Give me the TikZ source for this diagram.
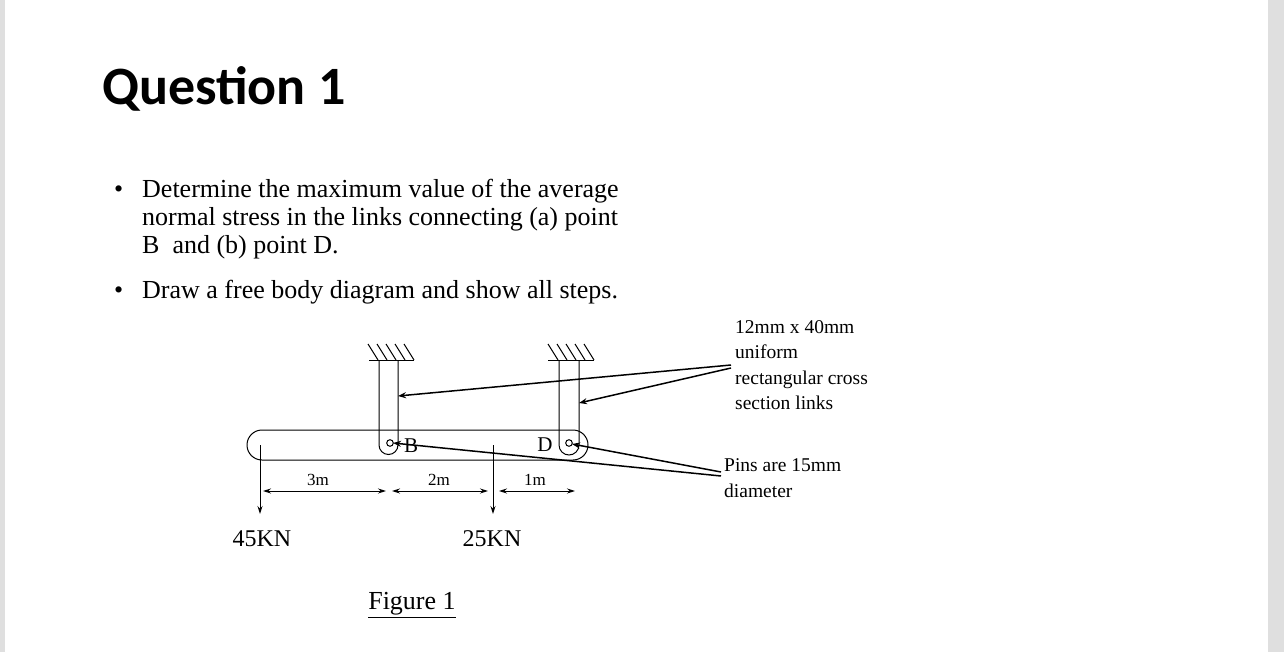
\documentclass[tikz,border=0pt]{standalone}
\usepackage{fontspec}
\setmainfont{Liberation Serif}
\newfontfamily\titlef{Carlito}
\usetikzlibrary{arrows.meta}
\begin{document}
\begin{tikzpicture}[x=1pt,y=-1pt,
  ln/.style={line width=1pt},
  lead/.style={line width=1.5pt,-{Stealth[length=8pt,width=6pt]}},
  dim/.style={line width=0.9pt,{Stealth[length=8pt,width=5pt]}-{Stealth[length=8pt,width=5pt]}},
  load/.style={line width=0.9pt,-{Stealth[length=8pt,width=5pt]}},
  txt/.style={inner sep=0pt,anchor=base west}]
\useasboundingbox (0,0) rectangle (1284,652);
\fill[gray!25] (0,0) rectangle (5,652);
\fill[gray!25] (1268,0) rectangle (1284,652);
\node[txt,font=\titlef\bfseries\fontsize{54}{54}\selectfont] (title) at (102,105) {Question 1};
\begin{scope}[font=\fontsize{26}{28}\selectfont]
\node[txt] (b1) at (114,198) {\textbullet};
\node[txt] (t1) at (142,198) {Determine the maximum value of the average};
\node[txt] (t2) at (142,226) {normal stress in the links connecting (a) point};
\node[txt] (t3) at (142,254) {B\ \ and (b) point D.};
\node[txt] (b2) at (114,298) {\textbullet};
\node[txt] (t4) at (142,298) {Draw a free body diagram and show all steps.};
\end{scope}
% beam
\draw[ln] (262,430) -- (573,430) arc (-90:90:15) -- (262,460) arc (90:270:15) -- cycle;
% link B
\draw[ln] (379,360) -- (379,445) arc (180:0:9.5) -- (398,360);
\draw[ln] (369,360) -- (414,360);
\foreach \x in {374,383,392,401,410} \draw[ln] (\x,360) ++(-6,-16) -- ++(10,16);
\draw[ln] (390,443) circle (3.3);
% link D
\draw[ln] (559,360) -- (559,445) arc (180:0:10) -- (579,360);
\draw[ln] (548,360) -- (594,360);
\foreach \x in {554,563,572,581,590} \draw[ln] (\x,360) ++(-6,-16) -- ++(10,16);
\draw[ln] (569,443) circle (3.3);
\node[font=\fontsize{21}{21}\selectfont] (B) at (411,446) {B};
\node[font=\fontsize{21}{21}\selectfont] (D) at (545,445) {D};
% loads
\coordinate (l1) at (260,445); \coordinate (l1e) at (260,514);
\coordinate (l2) at (493,445); \coordinate (l2e) at (493,514);
\draw[load] (l1) -- (l1e);
\draw[load] (l2) -- (l2e);
\node[font=\fontsize{24}{24}\selectfont] (f1) at (262,539) {45KN};
\node[font=\fontsize{24}{24}\selectfont] (f2) at (492,539) {25KN};
% dims
\coordinate (d0) at (263,491); \coordinate (d1) at (386,491);
\coordinate (d2) at (392,491); \coordinate (d3) at (488,491);
\coordinate (d4) at (499,491); \coordinate (d5) at (575,491);
\draw[dim] (d0) -- (d1); \draw[dim] (d2) -- (d3); \draw[dim] (d4) -- (d5);
\node[font=\fontsize{17}{17}\selectfont] (m3) at (318,480) {3m};
\node[font=\fontsize{17}{17}\selectfont] (m2) at (439,480) {2m};
\node[font=\fontsize{17}{17}\selectfont] (m1) at (535,480) {1m};
% labels
\begin{scope}[font=\fontsize{19.5}{25}\selectfont]
\node[txt] (r1) at (735,333) {12mm x 40mm};
\node[txt] (r2) at (735,358) {uniform};
\node[txt] (r3) at (735,384) {rectangular cross};
\node[txt] (r4) at (735,409) {section links};
\node[txt] (p1) at (724,471) {Pins are 15mm};
\node[txt] (p2) at (724,497) {diameter};
\end{scope}
\coordinate (a0) at (731,365); \coordinate (a1) at (731,368);
\draw[lead] (a0) -- (398,396);
\draw[lead] (a1) -- (579,403);
\coordinate (c0) at (721,472); \coordinate (c1) at (721,476);
\draw[lead] (c0) -- (572,444);
\draw[lead] (c1) -- (393,443);
\node[font=\fontsize{26}{26}\selectfont,inner sep=0pt] (fig) at (412,605) {\underline{Figure 1}};
\end{tikzpicture}
\end{document}
